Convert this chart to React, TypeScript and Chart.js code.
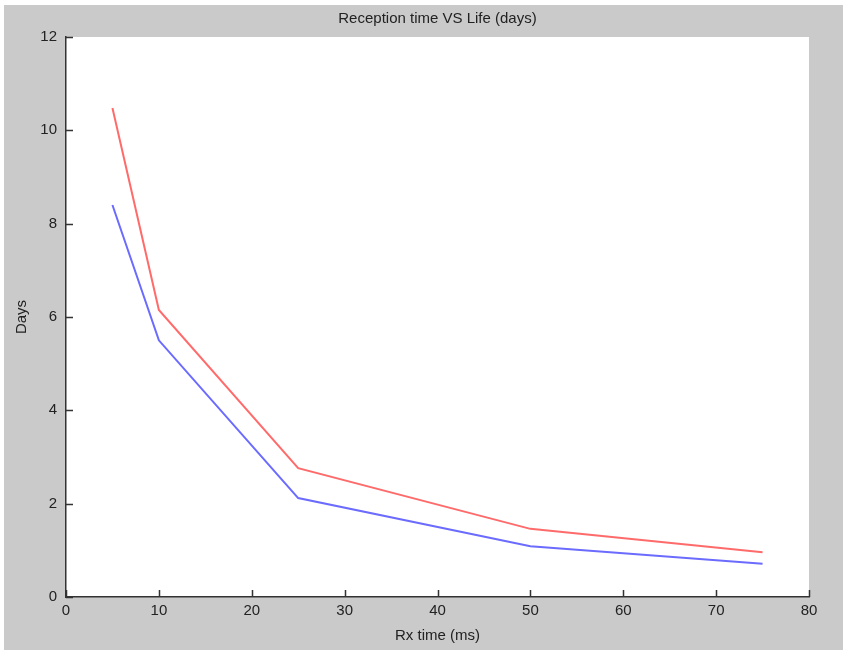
import React, { useEffect, useRef } from "react";
import { Chart, registerables } from "chart.js";

Chart.register(...registerables);

const rxTimes = [5, 10, 25, 50, 75];
const redSeries = [10.48, 6.15, 2.76, 1.46, 0.96];
const blueSeries = [8.4, 5.5, 2.12, 1.09, 0.71];
const xTicks = [0, 10, 20, 30, 40, 50, 60, 70, 80];
const yTicks = [0, 2, 4, 6, 8, 10, 12];
const titleText = "Reception time VS Life (days)";
const xTitle = "Rx time (ms)";
const yTitle = "Days";

const FONT = "'Liberation Sans', Arial, sans-serif";

const framePlugin = {
  id: "frame",
  beforeDraw(chart: any) {
    const { ctx, chartArea, width, height } = chart;
    ctx.save();
    ctx.fillStyle = "#ffffff";
    ctx.fillRect(0, 0, width, height);
    ctx.fillStyle = "#cacaca";
    ctx.fillRect(4, 5, width - 8, height - 10);
    ctx.fillStyle = "#ffffff";
    ctx.fillRect(chartArea.left, chartArea.top, chartArea.right - chartArea.left, chartArea.bottom - chartArea.top);
    ctx.fillStyle = "#222";
    ctx.font = "15px " + FONT;
    ctx.textAlign = "center";
    ctx.textBaseline = "middle";
    ctx.fillText(titleText, (chartArea.left + chartArea.right) / 2, 19);
    ctx.restore();
  },
  afterDraw(chart: any) {
    const { ctx, chartArea, scales } = chart;
    ctx.save();
    ctx.strokeStyle = "#333";
    ctx.lineWidth = 1.5;
    ctx.beginPath();
    for (const v of xTicks) {
      const x = Math.round(scales.x.getPixelForValue(v)) + 0.5;
      ctx.moveTo(x, chartArea.bottom);
      ctx.lineTo(x, chartArea.bottom - 7);
    }
    for (const v of yTicks) {
      const y = Math.round(scales.y.getPixelForValue(v)) + 0.5;
      ctx.moveTo(chartArea.left, y);
      ctx.lineTo(chartArea.left + 7, y);
    }
    ctx.stroke();
    ctx.restore();
  },
};

export default function App() {
  const ref = useRef<HTMLCanvasElement | null>(null);
  useEffect(() => {
    if (!ref.current) return;
    const chart = new Chart(ref.current, {
      type: "line",
      data: {
        datasets: [
          {
            label: "Red",
            data: rxTimes.map((x, i) => ({ x, y: redSeries[i] })),
            borderColor: "#ff6b6b",
            borderWidth: 2,
            pointRadius: 0,
            tension: 0,
          },
          {
            label: "Blue",
            data: rxTimes.map((x, i) => ({ x, y: blueSeries[i] })),
            borderColor: "#6b6bff",
            borderWidth: 2,
            pointRadius: 0,
            tension: 0,
          },
        ],
      },
      options: {
        responsive: false,
        animation: false,
        layout: { padding: { top: 37, right: 38, left: 0, bottom: 0 } },
        plugins: { legend: { display: false }, title: { display: false }, tooltip: { enabled: false } },
        scales: {
          x: {
            type: "linear",
            min: 0,
            max: 80,
            afterBuildTicks: (s: any) => {
              s.ticks = xTicks.map((v) => ({ value: v }));
            },
            afterFit: (s: any) => {
              s.height = 58;
            },
            grid: { display: false, drawTicks: false },
            border: { display: true, color: "#333", width: 1.5 },
            ticks: { color: "#222", font: { family: FONT, size: 15 }, padding: 5, maxRotation: 0 },
            title: { display: true, text: xTitle, color: "#222", font: { family: FONT, size: 15 }, padding: { top: 0, bottom: 10 } },
          },
          y: {
            type: "linear",
            min: 0,
            max: 12,
            afterBuildTicks: (s: any) => {
              s.ticks = yTicks.map((v) => ({ value: v }));
            },
            afterFit: (s: any) => {
              s.width = 66;
            },
            grid: { display: false, drawTicks: false },
            border: { display: true, color: "#333", width: 1.5 },
            ticks: { color: "#222", font: { family: FONT, size: 15 }, padding: 9 },
            title: { display: true, text: yTitle, color: "#222", font: { family: FONT, size: 15 }, padding: { top: 13, bottom: 0 } },
          },
        },
      },
      plugins: [framePlugin],
    });
    return () => chart.destroy();
  }, []);
  return (
    <div style={{ position: "absolute", left: 0, top: 0, width: 847, height: 655 }}>
      <canvas ref={ref} width={847} height={655} style={{ display: "block" }} />
    </div>
  );
}
